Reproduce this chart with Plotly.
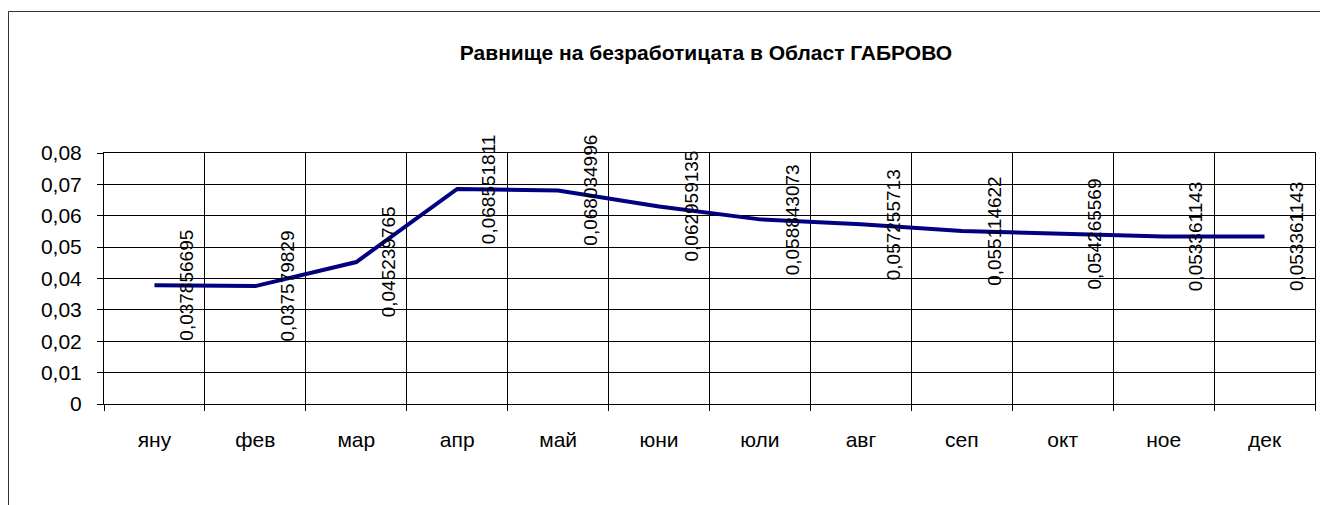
import plotly.graph_objects as go

months = ["яну", "фев", "мар", "апр", "май", "юни", "юли", "авг", "сеп", "окт", "ное", "дек"]
rate = [0.037856695, 0.037579829, 0.045239765, 0.068551811, 0.068034996, 0.062959135,
        0.058843073, 0.057255713, 0.055114622, 0.054265569, 0.053361143, 0.053361143]
labels = [f"{v:.9f}".replace(".", ",") for v in rate]
title = "Равнище на безработицата в Област ГАБРОВО"

OFF = 8  # browser body margin
W, H = 1328 - OFF, 505 - OFF
L = 104 - OFF
T = 153 - OFF
R = W - (1315 - OFF)
B = H - (404 - OFF)
pw, ph = W - L - R, H - T - B

fig = go.Figure()
fig.add_trace(go.Scatter(x=months, y=rate, mode="lines",
                         line=dict(color="#000080", width=4), hoverinfo="skip"))

for m, v, t in zip(months, rate, labels):
    fig.add_annotation(x=m, y=v, text=t, textangle=-90, showarrow=False,
                       xshift=32, font=dict(family="Liberation Sans, Arial", size=19, color="black"))

def px_x(p):
    return (p - OFF - L) / pw

def px_y(p):
    return (H - B - (p - OFF)) / ph

fig.add_shape(type="line", xref="paper", yref="paper",
              x0=px_x(8.5), x1=px_x(8.5), y0=px_y(520), y1=px_y(11.5),
              line=dict(color="#333333", width=1))
fig.add_shape(type="line", xref="paper", yref="paper",
              x0=px_x(8.5), x1=px_x(1340), y0=px_y(11.5), y1=px_y(11.5),
              line=dict(color="#333333", width=1))

fig.update_layout(
    width=W, height=H,
    margin=dict(l=L, r=R, t=T, b=B),
    paper_bgcolor="white", plot_bgcolor="white",
    separators=",.",
    showlegend=False,
    font=dict(family="Liberation Sans, Arial", size=21, color="black"),
    title=dict(text=title, x=(706 - OFF) / W, xanchor="center", y=1 - (53 - OFF) / H, yanchor="middle",
               font=dict(family="Liberation Sans, Arial", size=21, color="black", weight="bold")),
)
fig.update_xaxes(type="category", range=[-0.5, 11.5], tickson="boundaries",
                 ticks="outside", ticklen=6, tickcolor="black",
                 showgrid=True, gridcolor="black", gridwidth=1,
                 showline=True, linecolor="black", linewidth=1, mirror=True,
                 ticklabelstandoff=17, tickfont=dict(size=21))
fig.update_yaxes(range=[0, 0.08], dtick=0.01, tick0=0,
                 ticks="outside", ticklen=6, tickcolor="black",
                 showgrid=True, gridcolor="black", gridwidth=1,
                 showline=True, linecolor="black", linewidth=1, mirror=True,
                 zeroline=False, ticklabelstandoff=11, tickfont=dict(size=21))

fig.write_html("out.html")
